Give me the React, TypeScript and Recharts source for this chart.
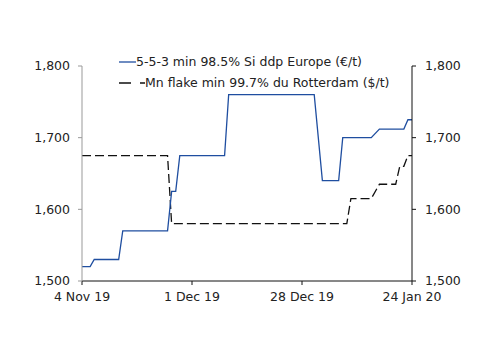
import { LineChart, Line, XAxis, YAxis } from "recharts";

// day offsets from 4 Nov 2019
const siDays = [0, 2, 3, 9, 10, 21, 22, 23, 24, 35, 36, 57, 59, 63, 64, 71, 73, 79, 80, 81];
const siValues = [1520, 1520, 1530, 1530, 1570, 1570, 1625, 1625, 1675, 1675, 1760, 1760, 1640, 1640, 1700, 1700, 1712, 1712, 1725, 1725];

const mnDays = [0, 21, 22, 65, 66, 71, 73, 77, 78, 79, 80, 81];
const mnValues = [1675, 1675, 1580, 1580, 1615, 1615, 1635, 1635, 1660, 1660, 1675, 1675];

const xTicks = [0, 27, 54, 81];
const xTickLabels = ["4 Nov 19", "1 Dec 19", "28 Dec 19", "24 Jan 20"];
const yTicks = [1500, 1600, 1700, 1800];

const siLabel = "5-5-3 min 98.5% Si ddp Europe (€/t)";
const mnLabel = "Mn flake min 99.7% du Rotterdam ($/t)";

const BLUE = "#1f4ea0";
const FONT = "'DejaVu Sans', Verdana, sans-serif";

const siData = siDays.map((d, i) => ({ day: d, v: siValues[i] }));
const mnData = mnDays.map((d, i) => ({ day: d, v: mnValues[i] }));

const fmt = (v: number) => v.toLocaleString("en-US");
const tick = { fontSize: 12.5, fill: "#222", fontFamily: FONT };

export default function App() {
  return (
    <div style={{ position: "absolute", left: 0, top: 0, width: 500, height: 353, background: "#fff", fontFamily: FONT }}>
      <LineChart width={500} height={353} margin={{ top: 66, right: 28, bottom: 42, left: 22 }}>
        <XAxis
          dataKey="day"
          type="number"
          domain={[0, 81]}
          ticks={xTicks}
          tickFormatter={(v: number) => xTickLabels[xTicks.indexOf(v)]}
          tick={tick}
          stroke="#111"
          tickSize={4}
          tickMargin={7}
          height={30}
          allowDuplicatedCategory={false}
        />
        <YAxis
          yAxisId="left"
          domain={[1500, 1800]}
          ticks={yTicks}
          tickFormatter={fmt}
          tick={tick}
          stroke="#999"
          tickSize={4}
          tickMargin={8}
          width={60}
        />
        <YAxis
          yAxisId="right"
          orientation="right"
          domain={[1500, 1800]}
          ticks={yTicks}
          tickFormatter={fmt}
          tick={tick}
          stroke="#111"
          tickSize={4}
          tickMargin={9}
          width={60}
        />
        <Line
          yAxisId="right"
          data={mnData}
          dataKey="v"
          type="linear"
          stroke="#111"
          strokeWidth={1.3}
          strokeDasharray="9 4"
          dot={false}
          isAnimationActive={false}
        />
        <Line
          yAxisId="left"
          data={siData}
          dataKey="v"
          type="linear"
          stroke={BLUE}
          strokeWidth={1.3}
          dot={false}
          isAnimationActive={false}
        />
      </LineChart>
      <div style={{ position: "absolute", left: 119, top: 52, fontSize: 12.5, color: "#222", lineHeight: "20.6px" }}>
        <div style={{ display: "flex", alignItems: "center" }}>
          <svg width={17} height={4}>
            <line x1={0} y1={2} x2={17} y2={2} stroke={BLUE} strokeWidth={1.3} />
          </svg>
          <span>{siLabel}</span>
        </div>
        <div style={{ display: "flex", alignItems: "center" }}>
          <svg width={26} height={4}>
            <line x1={0} y1={2} x2={26} y2={2} stroke="#111" strokeWidth={1.3} strokeDasharray="12 9" />
          </svg>
          <span>{mnLabel}</span>
        </div>
      </div>
    </div>
  );
}
